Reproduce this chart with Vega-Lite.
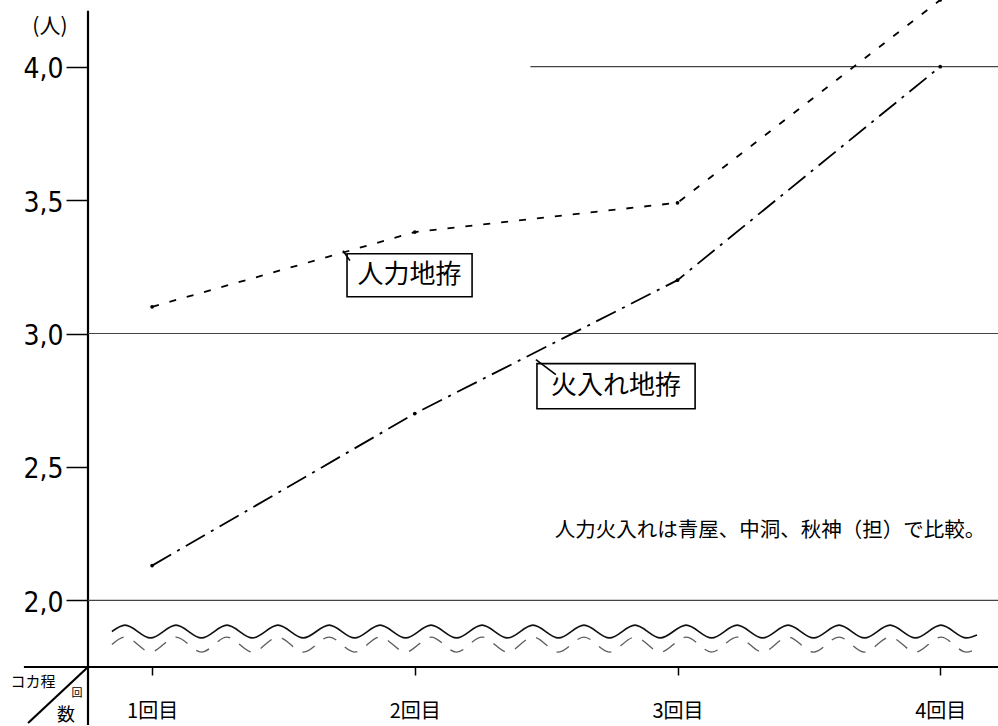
{
  "$schema": "https://vega.github.io/schema/vega-lite/v6.json",
  "width": 910,
  "height": 667,
  "autosize": {"type": "none"},
  "padding": {"left": 88, "top": 0, "right": 0, "bottom": 59},
  "background": "white",
  "config": {"view": {"stroke": null}, "font": "Noto Sans CJK JP"},
  "layer": [
    {
      "data": {"values": [
        {"x": 0.756, "x2": 0.756, "y": 4.21, "y2": 1.533},
        {"x": 0.512, "x2": 4.22, "y": 1.75, "y2": 1.75},
        {"x": 0.756, "x2": 0.528, "y": 1.75, "y2": 1.54}
      ]},
      "mark": {"type": "rule", "color": "black", "strokeWidth": 2.2},
      "encoding": {
        "x": {"field": "x", "type": "quantitative", "scale": {"domain": [0.756, 4.22], "nice": false, "zero": false},
          "axis": {"values": [1, 2, 3, 4], "domain": false, "grid": false, "ticks": true, "tickSize": 8, "tickColor": "black", "tickWidth": 1.5,
            "labelExpr": "datum.value + '回目'", "labelFontSize": 20, "labelPadding": 26, "labelColor": "black", "labelFont": "Noto Sans CJK JP", "title": null}},
        "x2": {"field": "x2"},
        "y": {"field": "y", "type": "quantitative", "scale": {"domain": [1.75, 4.25], "nice": false, "zero": false},
          "axis": {"values": [2, 2.5, 3, 3.5, 4], "domain": false, "grid": false, "ticks": true, "tickSize": 22, "tickColor": "black", "tickWidth": 1.5,
            "labelExpr": "replace(format(datum.value, '.1f'), '.', ',')", "labelFont": "Liberation Sans Narrow, DejaVu Sans Condensed, Noto Sans", "labelFontSize": 28, "labelColor": "black", "labelPadding": 3, "labelOffset": 3, "title": null}},
        "y2": {"field": "y2"}
      }
    },
    {
      "data": {"values": [
        {"x": 0.756, "x2": 4.22, "y": 3.0},
        {"x": 0.756, "x2": 4.22, "y": 2.0},
        {"x": 2.44, "x2": 4.22, "y": 4.0}
      ]},
      "mark": {"type": "rule", "color": "#444", "strokeWidth": 1.2},
      "encoding": {
        "x": {"field": "x", "type": "quantitative", "title": null},
        "x2": {"field": "x2"},
        "y": {"field": "y", "type": "quantitative", "title": null}
      }
    },
    {
      "data": {"values": [
        {"x": 0.847, "a": 1.883, "b": 1.834},
        {"x": 0.897, "a": 1.907, "b": 1.862},
        {"x": 0.994, "a": 1.859, "b": 1.806},
        {"x": 1.091, "a": 1.907, "b": 1.862},
        {"x": 1.188, "a": 1.859, "b": 1.806},
        {"x": 1.285, "a": 1.907, "b": 1.862},
        {"x": 1.382, "a": 1.859, "b": 1.806},
        {"x": 1.479, "a": 1.907, "b": 1.862},
        {"x": 1.576, "a": 1.859, "b": 1.806},
        {"x": 1.674, "a": 1.907, "b": 1.862},
        {"x": 1.771, "a": 1.859, "b": 1.806},
        {"x": 1.868, "a": 1.907, "b": 1.862},
        {"x": 1.965, "a": 1.859, "b": 1.806},
        {"x": 2.062, "a": 1.907, "b": 1.862},
        {"x": 2.159, "a": 1.859, "b": 1.806},
        {"x": 2.256, "a": 1.907, "b": 1.862},
        {"x": 2.353, "a": 1.859, "b": 1.806},
        {"x": 2.450, "a": 1.907, "b": 1.862},
        {"x": 2.547, "a": 1.859, "b": 1.806},
        {"x": 2.644, "a": 1.907, "b": 1.862},
        {"x": 2.741, "a": 1.859, "b": 1.806},
        {"x": 2.838, "a": 1.907, "b": 1.862},
        {"x": 2.935, "a": 1.859, "b": 1.806},
        {"x": 3.033, "a": 1.907, "b": 1.862},
        {"x": 3.130, "a": 1.859, "b": 1.806},
        {"x": 3.227, "a": 1.907, "b": 1.862},
        {"x": 3.324, "a": 1.859, "b": 1.806},
        {"x": 3.421, "a": 1.907, "b": 1.862},
        {"x": 3.518, "a": 1.859, "b": 1.806},
        {"x": 3.615, "a": 1.907, "b": 1.862},
        {"x": 3.712, "a": 1.859, "b": 1.806},
        {"x": 3.809, "a": 1.907, "b": 1.862},
        {"x": 3.906, "a": 1.859, "b": 1.806},
        {"x": 4.003, "a": 1.907, "b": 1.862},
        {"x": 4.100, "a": 1.859, "b": 1.806},
        {"x": 4.140, "a": 1.870, "b": 1.820}
      ]},
      "layer": [
        {
          "mark": {"type": "line", "color": "#111", "strokeWidth": 1.6, "interpolate": "monotone"},
          "encoding": {
            "x": {"field": "x", "type": "quantitative", "title": null},
            "y": {"field": "a", "type": "quantitative", "title": null}
          }
        },
        {
          "mark": {"type": "line", "color": "#333", "strokeWidth": 1.3, "interpolate": "monotone", "strokeDash": [14, 11], "opacity": 0.8},
          "encoding": {
            "x": {"field": "x", "type": "quantitative", "title": null},
            "y": {"field": "b", "type": "quantitative", "title": null}
          }
        }
      ]
    },
    {
      "data": {"values": [
        {"series": "人力地拵", "kai": 1, "v": 3.10},
        {"series": "人力地拵", "kai": 2, "v": 3.38},
        {"series": "人力地拵", "kai": 3, "v": 3.49},
        {"series": "人力地拵", "kai": 4, "v": 4.25},
        {"series": "火入れ地拵", "kai": 1, "v": 2.13},
        {"series": "火入れ地拵", "kai": 2, "v": 2.70},
        {"series": "火入れ地拵", "kai": 3, "v": 3.20},
        {"series": "火入れ地拵", "kai": 4, "v": 4.00}
      ]},
      "layer": [
        {
          "mark": {"type": "line", "color": "black", "strokeWidth": 1.8},
          "encoding": {
            "x": {"field": "kai", "type": "quantitative", "title": null},
            "y": {"field": "v", "type": "quantitative", "title": null},
            "detail": {"field": "series"},
            "strokeDash": {"field": "series", "type": "nominal", "legend": null,
              "scale": {"domain": ["人力地拵", "火入れ地拵"], "range": [[7, 11], [22, 7, 3, 7]]}}
          }
        },
        {
          "mark": {"type": "point", "filled": true, "color": "black", "size": 14, "opacity": 1},
          "encoding": {
            "x": {"field": "kai", "type": "quantitative", "title": null},
            "y": {"field": "v", "type": "quantitative", "title": null}
          }
        }
      ]
    },
    {
      "data": {"values": [
        {"x": 1.742, "x2": 2.218, "y": 3.299, "y2": 3.138},
        {"x": 2.465, "x2": 3.067, "y": 2.887, "y2": 2.718}
      ]},
      "mark": {"type": "rect", "fill": "white", "stroke": "black", "strokeWidth": 1.6},
      "encoding": {
        "x": {"field": "x", "type": "quantitative", "title": null},
        "x2": {"field": "x2"},
        "y": {"field": "y", "type": "quantitative", "title": null},
        "y2": {"field": "y2"}
      }
    },
    {
      "data": {"values": [
        {"x": 1.727, "x2": 1.753, "y": 3.310, "y2": 3.273},
        {"x": 2.461, "x2": 2.537, "y": 2.902, "y2": 2.846}
      ]},
      "mark": {"type": "rule", "color": "black", "strokeWidth": 1.6},
      "encoding": {
        "x": {"field": "x", "type": "quantitative", "title": null},
        "x2": {"field": "x2"},
        "y": {"field": "y", "type": "quantitative", "title": null},
        "y2": {"field": "y2"}
      }
    },
    {
      "data": {"values": [
        {"x": 1.98, "y": 3.218, "t": "人力地拵", "s": 26},
        {"x": 2.766, "y": 2.802, "t": "火入れ地拵", "s": 26},
        {"x": 3.352, "y": 2.261, "t": "人力火入れは青屋、中洞、秋神（担）で比較。", "s": 20.5},
        {"x": 0.611, "y": 4.15, "t": "(人)", "s": 21},
        {"x": 0.547, "y": 1.695, "t": "コカ程", "s": 15},
        {"x": 0.714, "y": 1.65, "t": "回", "s": 11},
        {"x": 0.672, "y": 1.566, "t": "数", "s": 18}
      ]},
      "mark": {"type": "text", "color": "black", "align": "center", "baseline": "middle", "font": "Noto Sans CJK JP"},
      "encoding": {
        "x": {"field": "x", "type": "quantitative", "title": null},
        "y": {"field": "y", "type": "quantitative", "title": null},
        "text": {"field": "t"},
        "size": {"field": "s", "type": "quantitative", "scale": null}
      }
    }
  ]
}
